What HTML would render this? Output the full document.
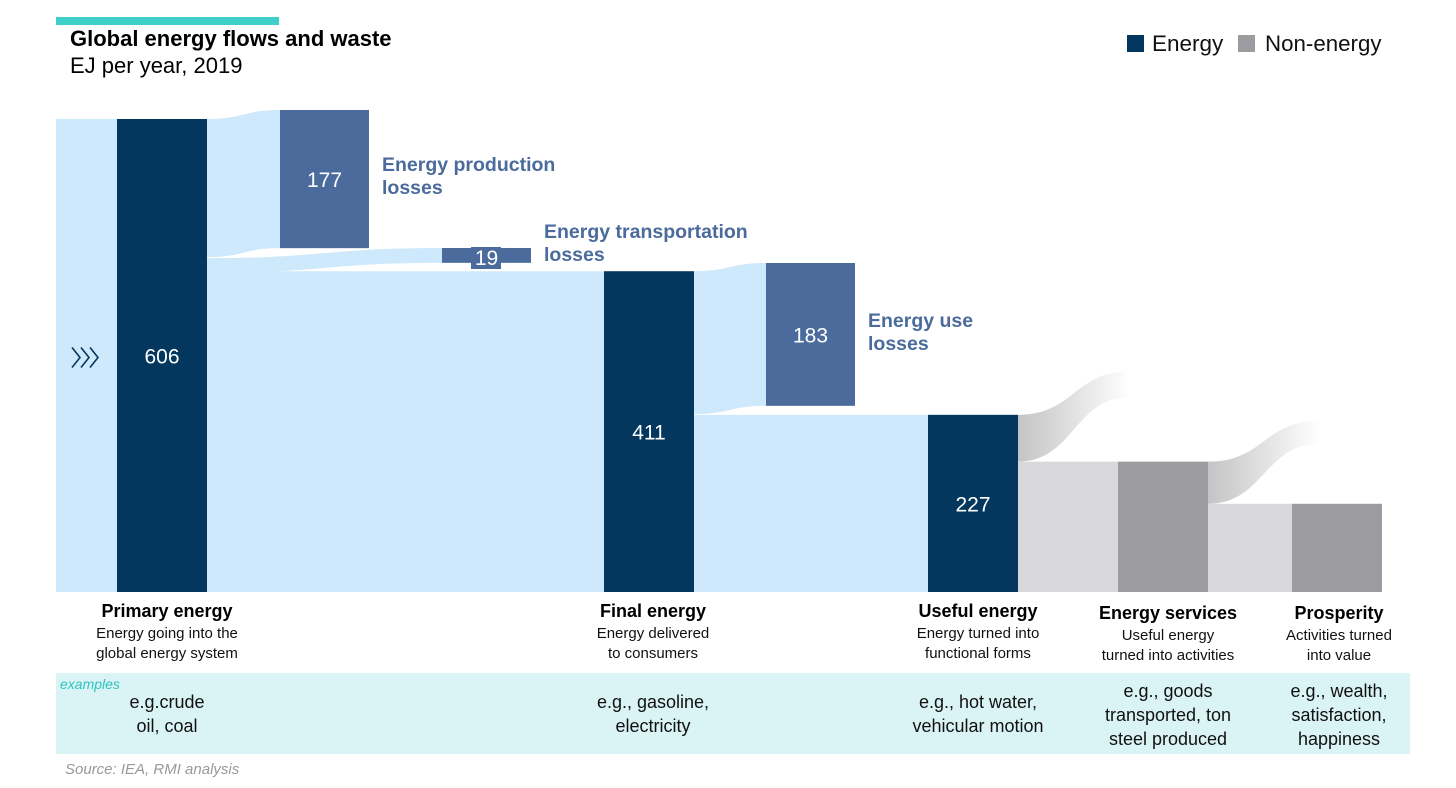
<!DOCTYPE html>
<html><head><meta charset="utf-8"><style>
html,body{margin:0;padding:0;background:#fff;}
svg{display:block;font-family:"Liberation Sans",Arial,sans-serif;}
</style></head><body>
<svg id="c" width="1456" height="788" viewBox="0 0 1456 788">
<defs>
<linearGradient id="fadeA" x1="0" y1="0" x2="1" y2="0"><stop offset="0" stop-color="#c4c4c6"/><stop offset="1" stop-color="#ffffff"/></linearGradient>
<linearGradient id="fadeB" x1="0" y1="0" x2="1" y2="0"><stop offset="0" stop-color="#c4c4c6"/><stop offset="1" stop-color="#ffffff"/></linearGradient>
</defs>
<rect x="56" y="17" width="223" height="8" fill="#3fcfc9"/>
<text x="70" y="46" font-size="22" font-weight="bold" fill="#000">Global energy flows and waste</text>
<text x="70" y="73" font-size="22" fill="#000">EJ per year, 2019</text>
<g>
<rect x="1127" y="35" width="17" height="17" fill="#03375e"/>
<text x="1152" y="51" font-size="22.5" fill="#111">Energy</text>
<rect x="1238" y="35" width="17" height="17" fill="#9c9b9f"/>
<text x="1265" y="51" font-size="22.3" fill="#111">Non-energy</text>
</g>
<g id="flows"></g>
<g id="nodes"></g>
<rect x="56" y="673" width="1354" height="81" fill="#daf3f5"/>
<text x="60" y="689" font-size="14" font-style="italic" fill="#2ec4c0">examples</text>
<g id="labels"></g>
<text x="65" y="774" font-size="15" font-style="italic" fill="#999">Source: IEA, RMI analysis</text>
</svg>
<script>
const stageNames = ["Primary energy","Final energy","Useful energy","Energy services","Prosperity"];
const stageValues = [606, 411, 227, 167, 113];
const lossNames = ["Energy production losses","Energy transportation losses","Energy use losses"];
const lossValues = [177, 19, 183];
const stageDesc = [["Energy going into the","global energy system"],["Energy delivered","to consumers"],["Energy turned into","functional forms"],["Useful energy","turned into activities"],["Activities turned","into value"]];
const stageExamples = [["e.g.crude","oil, coal"],["e.g., gasoline,","electricity"],["e.g., hot water,","vehicular motion"],["e.g., goods","transported, ton","steel produced"],["e.g., wealth,","satisfaction,","happiness"]];

const NS="http://www.w3.org/2000/svg";
const base=592, scale=473/606;
const h=v=>v*scale;
const stageX=[117,604,928,1118,1292], BW=90;
const flows=document.getElementById('flows'), nodes=document.getElementById('nodes'), labels=document.getElementById('labels');
function mk(tag,attrs,parent){const e=document.createElementNS(NS,tag);for(const k in attrs)e.setAttribute(k,attrs[k]);parent.appendChild(e);return e;}
function band(x0,t0,b0,x1,t1,b1){const m=(x0+x1)/2;return `M${x0},${t0} C${m},${t0} ${m},${t1} ${x1},${t1} L${x1},${b1} C${m},${b1} ${m},${b0} ${x0},${b0} Z`;}
const LB="#cfe9fc", NAVY="#03375e", LOSS="#4a6b9b";

// input flow
let p=mk('rect',{x:56,y:base-h(stageValues[0]),width:61,height:h(stageValues[0]),fill:LB},flows);

const cy0=base-h(stageValues[0])/2+2;
let chev=mk('path',{d:`M72,${cy0-10} L80,${cy0} L72,${cy0+10} M81,${cy0-10} L89,${cy0} L81,${cy0+10} M90,${cy0-10} L98,${cy0} L90,${cy0+10}`,fill:'none',stroke:NAVY,'stroke-width':1.6},flows);


const p0=base-h(stageValues[0]), xr0=stageX[0]+BW;
const l0top=110, l0x=280;
let s=p0, e=s+h(lossValues[0]);
p=mk('path',{d:band(xr0,s,e,l0x,l0top,l0top+h(lossValues[0])),fill:LB},flows);

const l1x=442, l1top=248;
let s1=e+1, e1=s1+h(lossValues[1]);
p=mk('path',{d:band(xr0,s1,e1,l1x,l1top,l1top+h(lossValues[1])),fill:LB},flows);

const f1=base-h(stageValues[1]);
p=mk('path',{d:band(xr0,f1,base,stageX[1],f1,base),fill:LB},flows);

const xr1=stageX[1]+BW, l2x=766, l2top=263;
p=mk('path',{d:band(xr1,f1,f1+h(lossValues[2]),l2x,l2top,l2top+h(lossValues[2])),fill:LB},flows);

const f2=base-h(stageValues[2]);
p=mk('path',{d:band(xr1,f2,base,stageX[2],f2,base),fill:LB},flows);

const fades=['fadeA','fadeB'];
for(let i=2;i<4;i++){
  const xr=stageX[i]+BW, top=base-h(stageValues[i]), nt=base-h(stageValues[i+1]);
  const fx=xr+112, ft=top-(nt-top)*0.5-20;
  p=mk('path',{d:band(xr,top,nt,fx,ft,ft+(nt-top)*0.55),fill:'url(#'+fades[i-2]+')'},flows);
  
  p=mk('rect',{x:xr,y:nt,width:stageX[i+1]-xr,height:base-nt,fill:'#d8d8da'},flows);
  
}
for(let i=0;i<5;i++){
  const top=base-h(stageValues[i]);
  const r=mk('rect',{x:stageX[i],y:top,width:BW,height:h(stageValues[i]),fill:i<3?NAVY:'#9c9b9f'},nodes);
  
  
  if(i<3){const t=mk('text',{x:stageX[i]+BW/2,y:top+h(stageValues[i])/2+8,'font-size':21,fill:'#fff','text-anchor':'middle'},nodes);t.textContent=stageValues[i];
  }
}
const lossX=[l0x,l1x,l2x], lossTop=[l0top,l1top,l2top];
for(let i=0;i<3;i++){
  const w=89;
  const r=mk('rect',{x:lossX[i],y:lossTop[i],width:w,height:h(lossValues[i]),fill:LOSS},nodes);
  
  let cy=lossTop[i]+h(lossValues[i])/2+8;
  if(i==1){const b=mk('rect',{x:lossX[i]+29,y:lossTop[i]-1,width:30,height:22,fill:LOSS},nodes);
    cy=lossTop[i]+17;}
  const t=mk('text',{x:lossX[i]+w/2,y:cy,'font-size':21,fill:'#fff','text-anchor':'middle'},nodes);t.textContent=lossValues[i];
  
  const words=lossNames[i].split(' ');const l2=words.pop();const l1=words.join(' ');
  const lx=lossX[i]+w+13, ly=[171,238,327][i];
  const a=mk('text',{x:lx,y:ly,'font-size':19.5,'font-weight':'bold',fill:LOSS},nodes);a.textContent=l1;
  
  const bb=mk('text',{x:lx,y:ly+23,'font-size':19.5,'font-weight':'bold',fill:LOSS},nodes);bb.textContent=l2;
  
}
const labelCX=[167,653,978,1168,1339], titleY=[617,617,617,619,619];
for(let i=0;i<5;i++){
  const t=mk('text',{x:labelCX[i],y:titleY[i],'font-size':18,'font-weight':'bold',fill:'#000','text-anchor':'middle'},labels);t.textContent=stageNames[i];
  
  stageDesc[i].forEach((d,j)=>{const q=mk('text',{x:labelCX[i],y:titleY[i]+21+j*20,'font-size':15,fill:'#111','text-anchor':'middle'},labels);q.textContent=d;
    });
  const ex=stageExamples[i], y0=ex.length==3?697:708;
  ex.forEach((d,j)=>{const q=mk('text',{x:labelCX[i],y:y0+j*24,'font-size':18,fill:'#111','text-anchor':'middle'},labels);q.textContent=d;
    });
}
</script>
</body></html>
